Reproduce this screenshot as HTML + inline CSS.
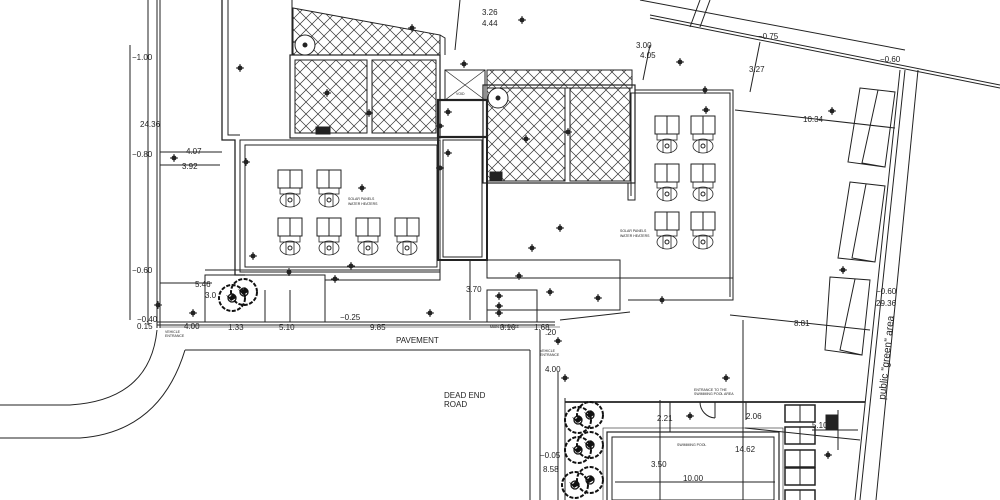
<!DOCTYPE html>
<html><head><meta charset="utf-8"><style>
html,body{margin:0;padding:0;background:#fff;}
svg{display:block;font-family:"Liberation Sans",sans-serif;}
.t{font-size:7px;fill:#222}
.s{font-size:3.5px;fill:#222}
.d{font-size:8px;fill:#222}
</style></head><body>
<svg width="1000" height="500" viewBox="0 0 1000 500" xmlns="http://www.w3.org/2000/svg">
<defs>
<pattern id="h" width="12" height="12" patternUnits="userSpaceOnUse">
<path d="M0,0L12,12M12,0L0,12" stroke="#333" stroke-width="0.7"/>
</pattern>
<g id="sp">
<rect x="0" y="0" width="24" height="18" fill="none" stroke="#222" stroke-width="1"/>
<line x1="12" y1="0" x2="12" y2="18" stroke="#222"/>
<rect x="2" y="18" width="20" height="6" fill="none" stroke="#222" stroke-width="0.8"/>
<ellipse cx="12" cy="30" rx="10" ry="7" fill="none" stroke="#222" stroke-width="0.8"/>
<line x1="8" y1="24" x2="8" y2="37" stroke="#222" stroke-width="0.8"/>
<line x1="16" y1="24" x2="16" y2="37" stroke="#222" stroke-width="0.8"/>
<circle cx="12" cy="30" r="2" fill="none" stroke="#222"/>
</g>
<g id="lv"><circle r="2.5" fill="#222"/><line x1="-4" y1="0" x2="4" y2="0" stroke="#222"/><line x1="0" y1="-4" x2="0" y2="4" stroke="#222"/></g>
<g id="tr"><circle r="13" fill="none" stroke="#111" stroke-width="2" stroke-dasharray="4,1.5"/><path d="M-6,-3l4,2l3,-4l3,5l-5,3z" fill="#111"/><circle r="4" fill="none" stroke="#111" stroke-width="1.3"/></g>
<g id="pk"><rect width="30" height="17" fill="none" stroke="#222" stroke-width="1.5"/><line x1="15" y1="0" x2="15" y2="17" stroke="#222"/></g>
</defs>
<g fill="none" stroke="#222" stroke-width="1">
<line x1="148" y1="0" x2="148" y2="325"/>
<line x1="157" y1="0" x2="157" y2="328"/>
<line x1="160" y1="0" x2="160" y2="328"/>
<path d="M157,330 Q150,400 70,405 L0,405"/>
<path d="M185,350 Q160,432 80,438 L0,438"/>
<line x1="185" y1="350" x2="530" y2="350"/>
<line x1="530" y1="350" x2="530" y2="500"/>
<line x1="157" y1="322" x2="555" y2="322"/>
<line x1="157" y1="325" x2="555" y2="325"/>
<path d="M222,0 L222,140 L235,140 L235,275 L245,275" stroke-width="1.3"/>
<path d="M228,0 L228,135 L240,135"/>
<path d="M292,0 L292,55"/>
<rect x="245" y="145" width="192" height="122"/>
<rect x="240" y="140" width="200" height="132"/>
<path d="M205,270 L440,270 L440,280 L325,280 L325,322"/>
<rect x="205" y="275" width="120" height="47"/>
<line x1="265" y1="290" x2="265" y2="322"/><line x1="290" y1="290" x2="290" y2="322"/>
<path d="M293,8 L440,35 L440,55 L293,55 Z" fill="url(#h)"/>
<path d="M440,35 L445,38 L445,55"/>
<rect x="290" y="55" width="150" height="83" stroke-width="1.2"/>
<rect x="295" y="60" width="72" height="73" fill="url(#h)"/>
<rect x="372" y="60" width="64" height="73" fill="url(#h)"/>
<rect x="316" y="127" width="14" height="7" fill="#222"/>
<circle cx="305" cy="45" r="10" fill="#fff"/>
<circle cx="305" cy="45" r="2" fill="#222"/>
<rect x="445" y="70" width="40" height="30"/>
<path d="M445,70L485,100M485,70L445,100" stroke-width="0.6"/>
<rect x="438" y="100" width="49" height="37" stroke-width="2.2"/>
<rect x="438" y="137" width="49" height="123" stroke-width="2"/>
<rect x="443" y="140" width="39" height="117"/>
<rect x="487" y="70" width="145" height="18" fill="url(#h)"/>
<rect x="483" y="85" width="152" height="98" stroke-width="1.2"/>
<rect x="487" y="88" width="78" height="93" fill="url(#h)"/>
<rect x="570" y="88" width="60" height="93" fill="url(#h)"/>
<circle cx="498" cy="98" r="10" fill="#fff"/><circle cx="498" cy="98" r="2" fill="#222"/>
<rect x="490" y="172" width="12" height="8" fill="#222"/>
<path d="M628,183 L628,200 L635,200 L635,90 L733,90 L733,300 L628,300"/>
<path d="M631,196 L631,93 L730,93 L730,297"/>
<path d="M487,183 L487,278 L733,278"/>
<path d="M487,260 L620,260 L620,310 L487,310"/>
<rect x="487" y="290" width="50" height="32"/>
<path d="M640,0 L905,50"/>
<path d="M650,15 L1000,85"/>
<path d="M650,18 L1000,88"/>
<line x1="710" y1="0" x2="700" y2="27"/>
<line x1="700" y1="0" x2="690" y2="27"/>
<line x1="900" y1="70" x2="855" y2="500"/>
<line x1="905" y1="70" x2="860" y2="500"/>
<line x1="918" y1="70" x2="876" y2="500"/>
<path d="M860,88 L895,92 L885,167 L848,162 Z M878,90 L862,163 L885,167"/>
<path d="M850,182 L885,186 L875,262 L838,258 Z M866,184 L852,258 L875,262"/>
<path d="M830,277 L870,280 L862,355 L825,350 Z M855,279 L840,350 L862,355"/>
<line x1="565" y1="402" x2="865" y2="402" stroke-width="1.8"/>
<line x1="565" y1="398" x2="565" y2="500"/>
<line x1="558" y1="372" x2="558" y2="500"/>
<rect x="607" y="432" width="172" height="70" stroke-width="1.2"/>
<rect x="612" y="437" width="162" height="63"/>
<rect x="603" y="428" width="180" height="74" stroke-width="0.6"/>
<line x1="743" y1="320" x2="743" y2="500"/>
<path d="M715,402 L715,418 M715,418 A16,16 0 0 1 700,402"/>
<line x1="838" y1="410" x2="838" y2="450"/>
<rect x="826" y="415" width="12" height="14" fill="#222"/>
<line x1="812" y1="430" x2="858" y2="430"/>
<line x1="130" y1="45" x2="130" y2="320"/>
<line x1="160" y1="152" x2="222" y2="152"/><line x1="160" y1="165" x2="220" y2="165"/>
<line x1="160" y1="283" x2="212" y2="283"/>
<line x1="160" y1="327" x2="560" y2="327" stroke-width="0.6"/>
<line x1="470" y1="260" x2="470" y2="320"/>
<line x1="540" y1="330" x2="540" y2="500"/>
<line x1="735" y1="110" x2="895" y2="128"/>
<line x1="730" y1="315" x2="870" y2="330"/>
<line x1="660" y1="400" x2="660" y2="500"/>
<line x1="746" y1="402" x2="746" y2="420"/>
<line x1="745" y1="428" x2="860" y2="440"/>
<line x1="670" y1="402" x2="670" y2="432"/>
<line x1="615" y1="482" x2="775" y2="482"/>
<line x1="650" y1="45" x2="643" y2="80"/>
<line x1="460" y1="0" x2="455" y2="50"/>
<line x1="760" y1="42" x2="750" y2="92"/>
<line x1="560" y1="320" x2="630" y2="312"/>
</g>
<use href="#sp" x="278" y="170"/><use href="#sp" x="317" y="170"/>
<use href="#sp" x="278" y="218"/><use href="#sp" x="317" y="218"/><use href="#sp" x="356" y="218"/><use href="#sp" x="395" y="218"/>
<use href="#sp" x="655" y="116"/><use href="#sp" x="691" y="116"/>
<use href="#sp" x="655" y="164"/><use href="#sp" x="691" y="164"/>
<use href="#sp" x="655" y="212"/><use href="#sp" x="691" y="212"/>
<use href="#tr" x="232" y="298"/><use href="#tr" x="244" y="292"/>
<use href="#tr" x="578" y="420"/><use href="#tr" x="590" y="415"/>
<use href="#tr" x="578" y="450"/><use href="#tr" x="590" y="445"/>
<use href="#tr" x="575" y="485"/><use href="#tr" x="590" y="480"/>
<use href="#pk" x="785" y="405"/><use href="#pk" x="785" y="427"/><use href="#pk" x="785" y="450"/><use href="#pk" x="785" y="468"/><use href="#pk" x="785" y="490"/>
<use href="#lv" x="240" y="68"/><use href="#lv" x="327" y="93"/><use href="#lv" x="369" y="113"/><use href="#lv" x="412" y="28"/>
<use href="#lv" x="464" y="64"/><use href="#lv" x="448" y="112"/><use href="#lv" x="440" y="126"/><use href="#lv" x="448" y="153"/><use href="#lv" x="440" y="168"/>
<use href="#lv" x="526" y="139"/><use href="#lv" x="568" y="132"/><use href="#lv" x="522" y="20"/><use href="#lv" x="680" y="62"/>
<use href="#lv" x="705" y="90"/><use href="#lv" x="706" y="110"/><use href="#lv" x="832" y="111"/><use href="#lv" x="843" y="270"/>
<use href="#lv" x="246" y="162"/><use href="#lv" x="362" y="188"/><use href="#lv" x="253" y="256"/><use href="#lv" x="289" y="272"/><use href="#lv" x="335" y="279"/><use href="#lv" x="351" y="266"/>
<use href="#lv" x="560" y="228"/><use href="#lv" x="532" y="248"/><use href="#lv" x="519" y="276"/><use href="#lv" x="550" y="292"/><use href="#lv" x="598" y="298"/><use href="#lv" x="662" y="300"/>
<use href="#lv" x="499" y="296"/><use href="#lv" x="499" y="306"/><use href="#lv" x="499" y="313"/><use href="#lv" x="430" y="313"/>
<use href="#lv" x="558" y="341"/><use href="#lv" x="565" y="378"/><use href="#lv" x="726" y="378"/><use href="#lv" x="690" y="416"/><use href="#lv" x="828" y="455"/>
<use href="#lv" x="158" y="305"/><use href="#lv" x="193" y="313"/><use href="#lv" x="174" y="158"/>
<g class="d">
<text x="132" y="60">−1.00</text><text x="140" y="127">24.36</text><text x="132" y="157">−0.80</text>
<text x="186" y="154">4.07</text><text x="182" y="169">3.92</text><text x="132" y="273">−0.60</text>
<text x="195" y="287">5.46</text><text x="205" y="298">3.0</text>
<text x="137" y="322">−0.40</text><text x="137" y="329">0.15</text><text x="184" y="329">4.00</text>
<text x="228" y="330">1.33</text><text x="279" y="330">5.10</text><text x="370" y="330">9.85</text><text x="340" y="320">−0.25</text>
<text x="466" y="292">3.70</text><text x="500" y="330">3.10</text><text x="534" y="330">1.68</text><text x="545" y="335">.20</text>
<text x="396" y="343">PAVEMENT</text><text x="444" y="398">DEAD END</text><text x="444" y="407">ROAD</text>
<text x="482" y="15">3.26</text><text x="482" y="26">4.44</text><text x="636" y="48">3.00</text><text x="640" y="58">4.05</text>
<text x="749" y="72">3.27</text><text x="803" y="122">10.34</text><text x="794" y="326">8.81</text><text x="758" y="39">−0.75</text><text x="880" y="62">−0.60</text>
<text x="876" y="306">29.36</text><text x="876" y="294">−0.60</text>
<text x="545" y="372">4.00</text><text x="540" y="458">−0.05</text><text x="543" y="472">8.58</text>
<text x="657" y="421">2.21</text><text x="746" y="419">2.06</text><text x="812" y="428">5.10</text><text x="735" y="452">14.62</text>
<text x="651" y="467">3.50</text><text x="683" y="481">10.00</text>
</g>
<g class="s">
<text x="348" y="200">SOLAR PANELS</text><text x="348" y="205">WATER HEATERS</text>
<text x="620" y="232">SOLAR PANELS</text><text x="620" y="237">WATER HEATERS</text>
<text x="165" y="333">VEHICLE</text><text x="165" y="337">ENTRANCE</text>
<text x="490" y="328">MAIN ENTRANCE</text><text x="540" y="352">VEHICLE</text><text x="540" y="356">ENTRANCE</text>
<text x="694" y="391">ENTRANCE TO THE</text><text x="694" y="395">SWIMMING POOL AREA</text><text x="677" y="446">SWIMMING POOL</text>
<text x="456" y="95">VOID</text>
</g>
<text x="885" y="400" transform="rotate(-84 885 400)" style="font-size:10px;fill:#222">public "green" area</text>
</svg>
</body></html>
